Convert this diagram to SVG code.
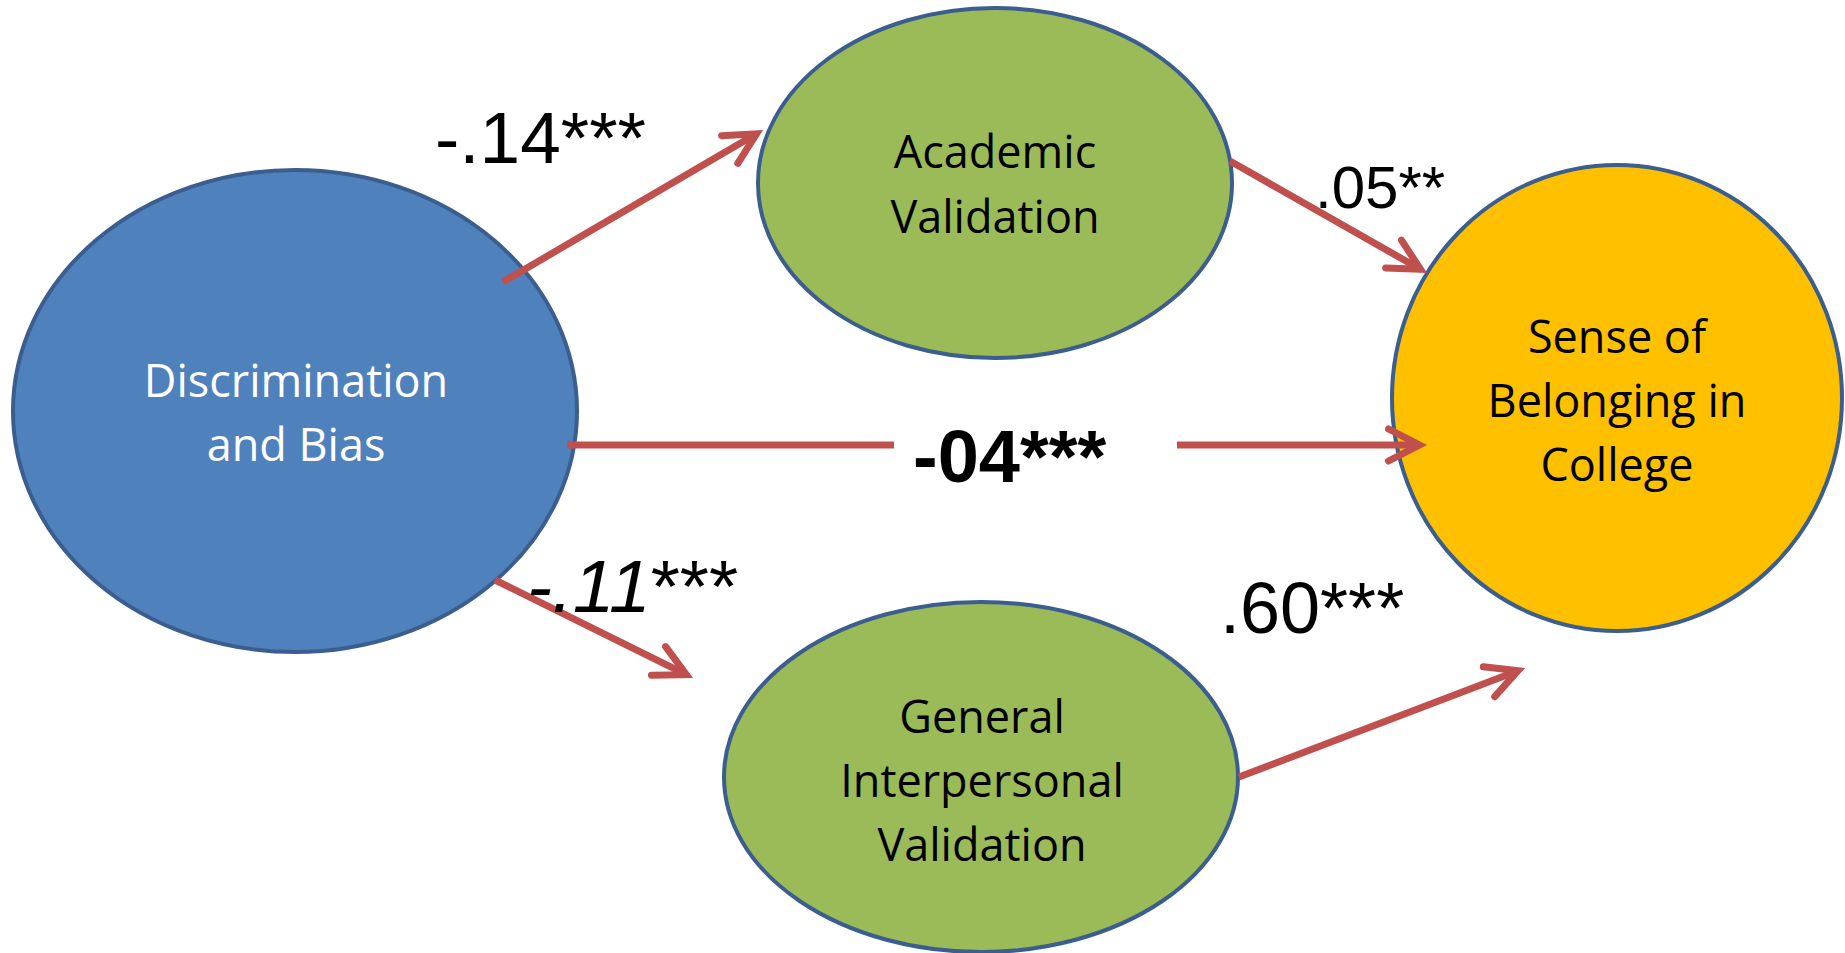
<svg xmlns="http://www.w3.org/2000/svg" width="1845" height="953" viewBox="0 0 1845 953">
<style>
.node{stroke:#3B5E8F;stroke-width:4}
.lbl{font-family:"Open Sans","Noto Sans",sans-serif;font-size:45px;text-anchor:middle}
.edge{fill:none;stroke:#C0504D;stroke-width:7}
.num{font-family:"Liberation Sans",Arial,sans-serif;fill:#000}
</style>
<defs>
<marker id="arr" markerUnits="userSpaceOnUse" viewBox="-45 -30 60 60" markerWidth="60" markerHeight="60" refX="0" refY="0" orient="auto" overflow="visible">
<path d="M-31,-16 L0,0 L-31,16" fill="none" stroke="#C0504D" stroke-width="7" stroke-linecap="round" stroke-linejoin="miter"/>
</marker>
</defs>
<rect width="1845" height="953" fill="#FFFFFF"/>
<g id="node-discrimination">
<ellipse class="node" cx="295" cy="411" rx="282" ry="241" fill="#4F81BD"/>
<text class="lbl" fill="#FFFFFF" x="296" y="397">Discrimination</text>
<text class="lbl" fill="#FFFFFF" x="296" y="461">and Bias</text>
</g>
<g id="node-academic">
<ellipse class="node" cx="995" cy="183" rx="237" ry="175" fill="#9BBB59"/>
<text class="lbl" fill="#000" x="995" y="168">Academic</text>
<text class="lbl" fill="#000" x="995" y="233">Validation</text>
</g>
<g id="node-belonging">
<ellipse class="node" cx="1617" cy="398" rx="225" ry="233" fill="#FFC000"/>
<text class="lbl" fill="#000" x="1617" y="353">Sense of</text>
<text class="lbl" fill="#000" x="1617" y="417">Belonging in</text>
<text class="lbl" fill="#000" x="1617" y="481">College</text>
</g>
<g id="node-general">
<ellipse class="node" cx="981" cy="777" rx="257" ry="175" fill="#9BBB59"/>
<text class="lbl" fill="#000" x="982" y="733">General</text>
<text class="lbl" fill="#000" x="982" y="797">Interpersonal</text>
<text class="lbl" fill="#000" x="982" y="861">Validation</text>
</g>
<g id="connectors">
<line class="edge" x1="503" y1="282" x2="756.5" y2="133.8" marker-end="url(#arr)"/>
<line class="edge" x1="1230" y1="161" x2="1420.5" y2="269.3" marker-end="url(#arr)"/>
<line class="edge" x1="495" y1="580" x2="686.3" y2="674.7" marker-end="url(#arr)"/>
<line class="edge" x1="1239" y1="777" x2="1518" y2="670.7" marker-end="url(#arr)"/>
<line class="edge" x1="567" y1="445" x2="894" y2="445"/>
<line class="edge" x1="1177" y1="445" x2="1419.5" y2="445" marker-end="url(#arr)"/>
</g>
<g id="labels">
<text class="num" x="435" y="163" font-size="73">-.14***</text>
<text class="num" x="1315" y="208" font-size="60">.05**</text>
<text class="num" x="913" y="482" font-size="74" font-weight="bold">-04***</text>
<text class="num" x="527" y="612" font-size="75"><tspan font-style="italic">-.11</tspan>***</text>
<text class="num" x="1220" y="633" font-size="72">.60***</text>
</g>
</svg>
